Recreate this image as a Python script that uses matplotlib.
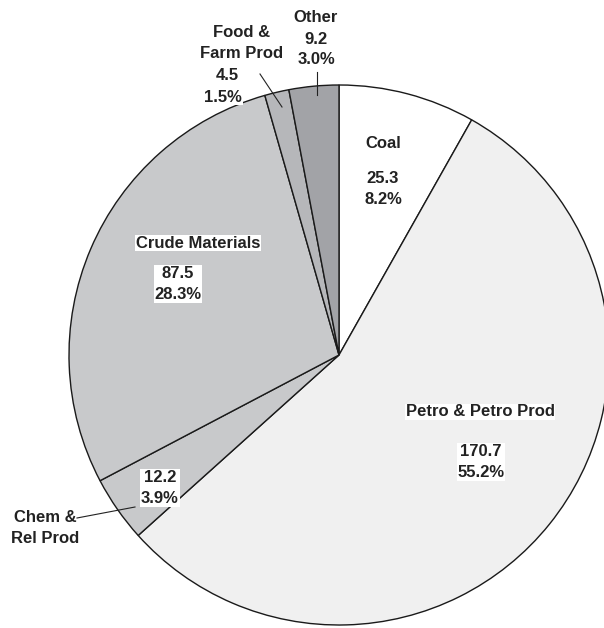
import matplotlib
matplotlib.use("Agg")
import matplotlib.pyplot as plt

categories = ["Coal", "Petro & Petro Prod", "Chem & Rel Prod", "Crude Materials", "Food & Farm Prod", "Other"]
values = [25.3, 170.7, 12.2, 87.5, 4.5, 9.2]
percents = ["8.2%", "55.2%", "3.9%", "28.3%", "1.5%", "3.0%"]
colors = ["#ffffff", "#f0f0f0", "#c8c9cb", "#c8c9cb", "#b6b7ba", "#a2a3a7"]

W, H = 604, 628
CX, CY, R = 339, 355, 270

fig = plt.figure(figsize=(W / 100, H / 100), dpi=100)
ax = fig.add_axes([0, 0, 1, 1])
ax.pie(values, colors=colors, startangle=90, counterclock=False, radius=1,
       wedgeprops=dict(edgecolor="#1a1a1a", linewidth=1.0))
ax.set_aspect("auto")
ax.set_xlim(-CX / R, (W - CX) / R)
ax.set_ylim(-(H - CY) / R, CY / R)
ax.axis("off")


def P(x, y):
    return ((x - CX) / R, (CY - y) / R)


fs = 12
font = dict(family=["Liberation Sans", "DejaVu Sans"], fontsize=fs, fontweight="bold",
            color="#222222", ha="center", va="center", linespacing=1.5)
wbox = dict(boxstyle="square,pad=0.05", fc="white", ec="none")


def fmt(i):
    return f"{values[i]}\n{percents[i]}"


ax.text(*P(383, 144), categories[0], **font)
ax.text(*P(383, 189), fmt(0), **font)

ax.text(*P(480, 412), categories[1], bbox=wbox, **font)
ax.text(*P(481, 462), fmt(1), bbox=wbox, **font)

ax.text(*P(198, 243), categories[3], bbox=wbox, **font)
ax.text(*P(178, 284), fmt(3), bbox=wbox, **font)

ax.text(*P(160, 488), fmt(2), bbox=wbox, **font)
ax.text(*P(45, 528), "Chem &\nRel Prod", **font)
ax.plot(*zip(P(77, 518), P(135, 507)), color="#222222", lw=0.8)

ax.text(*P(242, 43), "Food &\nFarm Prod", **font)
ax.text(*P(227, 75), f"{values[4]}", **font)
ax.text(*P(223, 97), percents[4], bbox=wbox, zorder=4, **font)
ax.plot(*zip(P(260, 74), P(282, 107)), color="#222222", lw=0.8)

ax.text(*P(316, 39), "Other\n" + fmt(5), **font)
ax.plot(*zip(P(317, 72), P(317, 95)), color="#222222", lw=0.8)

fig.savefig("out.png", dpi=100)
